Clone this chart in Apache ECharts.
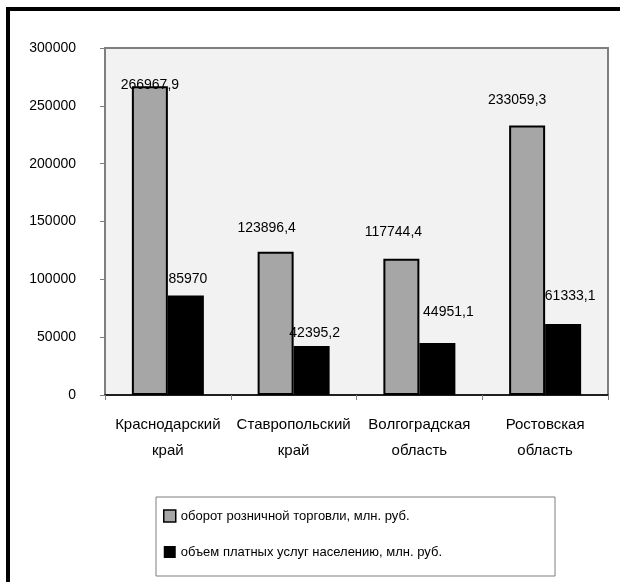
<!DOCTYPE html>
<html>
<head>
<meta charset="utf-8">
<script src="https://cdn.jsdelivr.net/npm/echarts@6/dist/echarts.min.js"></script>
<style>
html,body{margin:0;padding:0;background:#fff;}
#chart{width:620px;height:582px;}
</style>
</head>
<body>
<div id="chart"></div>
<script>
var categories = ['Краснодарский\nкрай', 'Ставропольский\nкрай', 'Волгоградская\nобласть', 'Ростовская\nобласть'];
var seriesNames = ['оборот розничной торговли, млн. руб.', 'объем платных услуг населению, млн. руб.'];
var retailValues = [266967.9, 123896.4, 117744.4, 233059.3];
var servicesValues = [85970, 42395.2, 44951.1, 61333.1];
var yTicks = [0, 50000, 100000, 150000, 200000, 250000, 300000];

// label nudges (style only), matching the reference's label placement
var retailLabelOffsets = [[0, 6], [-9, -17], [-8, -20], [-10, -18]];
var servicesLabelOffsets = [[2, -9], [3, -6], [11, -24], [7, -21]];

var FONT = '"Liberation Sans", Arial, sans-serif';

function fmt(v) { return String(v).replace('.', ','); }

function buildData(values, offsets) {
  return values.map(function (v, i) {
    return { value: v, label: { offset: offsets[i] } };
  });
}

var chart = echarts.init(document.getElementById('chart'), null, { renderer: 'canvas' });
chart.setOption({
  backgroundColor: '#ffffff',
  animation: false,
  textStyle: { fontFamily: FONT, color: '#000' },
  grid: {
    left: 105, right: 12, top: 48, bottom: 187,
    show: true, backgroundColor: '#f2f2f2', borderColor: '#7f7f7f', borderWidth: 2
  },
  legend: {
    orient: 'vertical',
    left: 158, top: 504,
    padding: 5,
    itemWidth: 12, itemHeight: 12, itemGap: 22,
    icon: 'rect',
    textStyle: { fontFamily: FONT, fontSize: 13, lineHeight: 14, color: '#000' },
    data: [
      { name: seriesNames[0], itemStyle: { color: '#a6a6a6', borderColor: '#000', borderWidth: 1.5 } },
      { name: seriesNames[1], itemStyle: { color: '#000' } }
    ]
  },
  xAxis: {
    type: 'category',
    data: categories,
    axisLine: { lineStyle: { color: '#000', width: 1.5 } },
    axisTick: { show: true, alignWithLabel: false, length: 5, lineStyle: { color: '#7f7f7f' } },
    axisLabel: { fontFamily: FONT, fontSize: 15, color: '#000', lineHeight: 26, margin: 17, interval: 0 }
  },
  yAxis: {
    type: 'value',
    min: yTicks[0], max: yTicks[yTicks.length - 1], interval: yTicks[1] - yTicks[0],
    axisLine: { show: true, lineStyle: { color: '#7f7f7f', width: 1.5 } },
    axisTick: { show: true, length: 5, lineStyle: { color: '#7f7f7f' } },
    splitLine: { show: false },
    axisLabel: { fontFamily: FONT, fontSize: 14, color: '#000', margin: 29,
                 formatter: function (v) { return String(v); } }
  },
  series: [
    {
      name: seriesNames[0], type: 'bar', barWidth: 36, barGap: '0%',
      itemStyle: { color: '#a6a6a6', borderColor: '#000', borderWidth: 2 },
      label: { show: true, position: 'top', distance: 0, fontFamily: FONT, fontSize: 14, color: '#000',
               formatter: function (p) { return fmt(p.value); } },
      data: buildData(retailValues, retailLabelOffsets)
    },
    {
      name: seriesNames[1], type: 'bar', barWidth: 36, barGap: '0%',
      itemStyle: { color: '#000' },
      label: { show: true, position: 'top', distance: 0, fontFamily: FONT, fontSize: 14, color: '#000',
               formatter: function (p) { return fmt(p.value); } },
      data: buildData(servicesValues, servicesLabelOffsets)
    }
  ],
  graphic: [
    { type: 'rect', shape: { x: 156, y: 497, width: 399, height: 79 }, style: { fill: 'none', stroke: '#7f7f7f', lineWidth: 1 }, z: -1 },
    { type: 'rect', shape: { x: 6, y: 7, width: 4, height: 575 }, style: { fill: '#000' } },
    { type: 'rect', shape: { x: 6, y: 7, width: 614, height: 4 }, style: { fill: '#000' } }
  ]
});
</script>
</body>
</html>
